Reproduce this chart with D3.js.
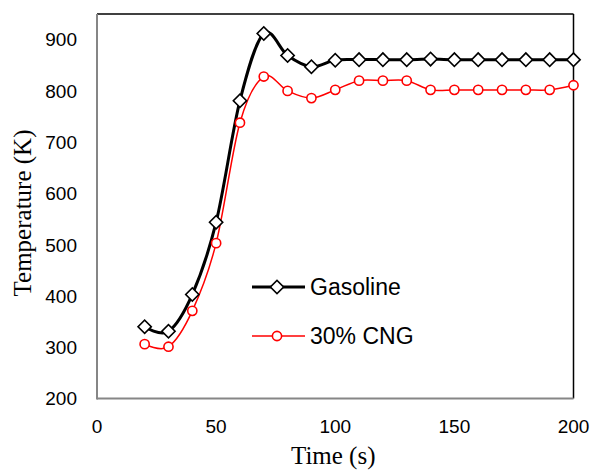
<!DOCTYPE html>
<meta charset="utf-8">
<title>Temperature vs time</title>
<style>
body { margin: 0; background: #fff; }
.tick-label { font: 19px "Liberation Sans", Arial, sans-serif; fill: #000; }
.axis-title { font: 25px "Liberation Serif", "Times New Roman", serif; fill: #000; }
.legend text { font: 23px "Liberation Sans", Arial, sans-serif; fill: #000; }
</style>
<svg></svg>
<script src="https://d3js.org/d3.v7.min.js"></script>
<script>
var width = 590, height = 473;

// data
var time = [20, 30, 40, 50, 60, 70, 80, 90, 100, 110, 120, 130, 140, 150, 160, 170, 180, 190, 200];
var gasoline = [340, 331, 403, 544, 781, 912, 869, 847, 860, 861, 861, 861, 862, 861, 861, 861, 861, 861, 861];
var cng = [306, 301, 371, 503, 738, 828, 800, 786, 802, 820, 820, 820, 802, 802, 802, 802, 802, 802, 811];
var xTicks = [0, 50, 100, 150, 200];
var yTicks = [200, 300, 400, 500, 600, 700, 800, 900];

var margin = { left: 97, right: 16, top: 14, bottom: 74 };

var svg = d3.select("svg").attr("width", width).attr("height", height);

var x = d3.scaleLinear().domain([0, 200]).range([margin.left, width - margin.right - 0.5]);
var y = d3.scaleLinear().domain([200, 950]).range([height - margin.bottom - 0.5, margin.top]);

// frame: top and right black, left and bottom grey
svg.append("line")
  .attr("x1", x(0)).attr("x2", x(200)).attr("y1", y(950)).attr("y2", y(950))
  .attr("stroke", "#000").attr("stroke-width", 1.5);
svg.append("line")
  .attr("x1", x(200)).attr("x2", x(200)).attr("y1", y(950)).attr("y2", y(200))
  .attr("stroke", "#000").attr("stroke-width", 1.5);
svg.append("line")
  .attr("x1", x(0)).attr("x2", x(0)).attr("y1", y(950)).attr("y2", y(200) + 1)
  .attr("stroke", "#868686").attr("stroke-width", 2);
svg.append("line")
  .attr("x1", x(0)).attr("x2", x(200)).attr("y1", y(200)).attr("y2", y(200))
  .attr("stroke", "#868686").attr("stroke-width", 2);

// tick labels
svg.append("g")
  .selectAll("text")
  .data(yTicks)
  .join("text")
  .attr("class", "tick-label")
  .attr("x", 77)
  .attr("y", d => y(d))
  .attr("dy", "0.36em")
  .attr("text-anchor", "end")
  .text(d => d);

svg.append("g")
  .selectAll("text")
  .data(xTicks)
  .join("text")
  .attr("class", "tick-label")
  .attr("x", d => x(d))
  .attr("y", 433)
  .attr("text-anchor", "middle")
  .text(d => d);

// axis titles
svg.append("text")
  .attr("class", "axis-title")
  .attr("x", (x(0) + x(200)) / 2 - 2)
  .attr("y", 464)
  .attr("text-anchor", "middle")
  .text("Time (s)");

svg.append("text")
  .attr("class", "axis-title")
  .attr("transform", "translate(31," + 213 + ") rotate(-90)")
  .attr("text-anchor", "middle")
  .text("Temperature (K)");

var line = d3.line()
  .x(d => x(d[0]))
  .y(d => y(d[1]))
  .curve(d3.curveCatmullRom.alpha(0));

var gasPts = time.map((t, i) => [t, gasoline[i]]);
var cngPts = time.map((t, i) => [t, cng[i]]);

svg.append("path")
  .datum(gasPts)
  .attr("d", line)
  .attr("fill", "none")
  .attr("stroke", "#000")
  .attr("stroke-width", 3);

svg.append("path")
  .datum(cngPts)
  .attr("d", line)
  .attr("fill", "none")
  .attr("stroke", "#ff0000")
  .attr("stroke-width", 1.5);

var diamond = d3.symbol().type(d3.symbolSquare).size(88);

svg.append("g")
  .selectAll("path")
  .data(gasPts)
  .join("path")
  .attr("d", diamond)
  .attr("transform", d => "translate(" + x(d[0]) + "," + y(d[1]) + ") rotate(45)")
  .attr("fill", "#fff")
  .attr("stroke", "#000")
  .attr("stroke-width", 1.6);

svg.append("g")
  .selectAll("circle")
  .data(cngPts)
  .join("circle")
  .attr("cx", d => x(d[0]))
  .attr("cy", d => y(d[1]))
  .attr("r", 4.6)
  .attr("fill", "#fff")
  .attr("stroke", "#ff0000")
  .attr("stroke-width", 1.6);

// legend
var legend = svg.append("g").attr("class", "legend");

legend.append("line")
  .attr("x1", 252).attr("x2", 305).attr("y1", 287).attr("y2", 287)
  .attr("stroke", "#000").attr("stroke-width", 3);
legend.append("path")
  .attr("d", diamond)
  .attr("transform", "translate(277,287) rotate(45)")
  .attr("fill", "#fff").attr("stroke", "#000").attr("stroke-width", 1.6);
legend.append("text")
  .attr("x", 310).attr("y", 287).attr("dy", "0.36em")
  .text("Gasoline");

legend.append("line")
  .attr("x1", 252).attr("x2", 305).attr("y1", 336).attr("y2", 336)
  .attr("stroke", "#ff0000").attr("stroke-width", 1.5);
legend.append("circle")
  .attr("cx", 277).attr("cy", 336).attr("r", 4.6)
  .attr("fill", "#fff").attr("stroke", "#ff0000").attr("stroke-width", 1.6);
legend.append("text")
  .attr("x", 310).attr("y", 336).attr("dy", "0.36em")
  .text("30% CNG");
</script>
